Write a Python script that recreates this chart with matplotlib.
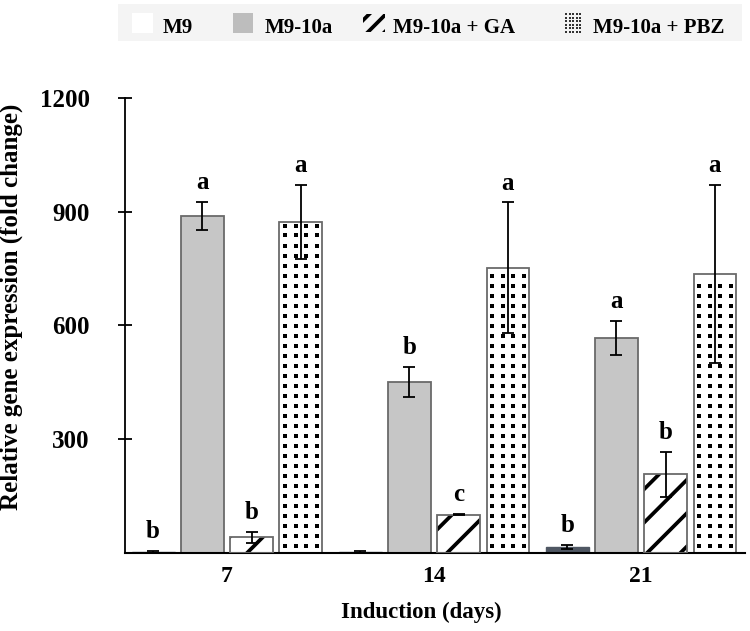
import numpy as np
import matplotlib
matplotlib.use('Agg')
import matplotlib.pyplot as plt
from matplotlib.patches import Rectangle

# ---------------- data ----------------
days = ['7', '14', '21']
series_names = ['M9', 'M9-10a', 'M9-10a + GA', 'M9-10a + PBZ']

m9 = [1, 1, 15]
m9_err = [3, 2, 5]
m9_10a = [889, 451, 567]
m9_10a_err = [37, 40, 45]
m9_10a_ga = [40, 100, 206]
m9_10a_ga_err = [15, 2, 60]
m9_10a_pbz = [873, 752, 736]
m9_10a_pbz_err = [98, 173, 235]

letters_m9 = ['b', '', 'b']
letters_m9_10a = ['a', 'b', 'a']
letters_ga = ['b', 'c', 'b']
letters_pbz = ['a', 'a', 'a']

y_ticks = [300, 600, 900, 1200]

# ---------------- style ----------------
plt.rcParams['font.family'] = ['Liberation Serif', 'DejaVu Serif']
plt.rcParams['font.weight'] = 'bold'
plt.rcParams['hatch.linewidth'] = 2.7

W, H = 750, 631
fig = plt.figure(figsize=(W / 100, H / 100), dpi=100)
ax = fig.add_axes([124.5 / W, 1 - 552.5 / H, (745 - 124.5) / W, (552.5 - 98) / H])

x = np.arange(len(days))
slot = 0.238
width = 0.207
offsets = (np.arange(4) - 1.5) * slot
edge_gray = '#6a6a6a'

values = [m9, m9_10a, m9_10a_ga, m9_10a_pbz]
errors = [m9_err, m9_10a_err, m9_10a_ga_err, m9_10a_pbz_err]
letters = [letters_m9, letters_m9_10a, letters_ga, letters_pbz]

ax.set_xlim(-0.495, 2.502)
ax.set_ylim(0, 1200)

# M9
ax.bar(x + offsets[0], m9, width, color='#4f5763', edgecolor='#4f5763', linewidth=1.0, zorder=2)
# M9-10a
ax.bar(x + offsets[1], m9_10a, width, color='#c6c6c6', edgecolor=edge_gray, linewidth=1.3, zorder=2)
# M9-10a + GA (hatch in black, outline in gray)
ax.bar(x + offsets[2], m9_10a_ga, width, color='white', edgecolor='black', linewidth=0,
       hatch='/', zorder=2)
ax.bar(x + offsets[2], m9_10a_ga, width, color='none', edgecolor=edge_gray, linewidth=1.3, zorder=3)
# M9-10a + PBZ
pbz_bars = ax.bar(x + offsets[3], m9_10a_pbz, width, color='white', edgecolor=edge_gray,
                  linewidth=1.3, zorder=2)

# dotted texture for PBZ bars (grid in pixel space, clipped to each bar)
for rect in pbz_bars:
    x0, y0 = rect.get_x(), rect.get_y()
    x1, y1 = x0 + rect.get_width(), y0 + rect.get_height()
    (X0, Y0), (X1, Y1) = ax.transData.transform([(x0, y0), (x1, y1)])
    cols = (X0 + X1) / 2 + (np.arange(4) - 1.5) * 10.5
    rows = np.arange(Y0 + 7, Y1 - 2, 10.0)
    gx, gy = np.meshgrid(cols, rows)
    pts = ax.transData.inverted().transform(np.column_stack([gx.ravel(), gy.ravel()]))
    sc = ax.scatter(pts[:, 0], pts[:, 1], marker='s', s=6.5, color='black',
                    linewidths=0, zorder=3)
    sc.set_clip_path(rect)

# error bars and letters
for i in range(4):
    ax.errorbar(x + offsets[i], values[i], yerr=errors[i], fmt='none', ecolor='black',
                elinewidth=1.3, capsize=4, capthick=1.3, zorder=4)
    for j in range(len(days)):
        if letters[i][j]:
            ax.annotate(letters[i][j], (x[j] + offsets[i], values[i][j] + errors[i][j]),
                        xytext=(0, 9), textcoords='offset points', ha='center', va='baseline',
                        fontsize=18, fontweight='bold', annotation_clip=False)

# axes styling
for s in ['top', 'right']:
    ax.spines[s].set_visible(False)
ax.spines['left'].set_linewidth(1.3)
ax.spines['bottom'].set_linewidth(1.5)
ax.spines['left'].set_bounds(0, 1200)
ax.set_yticks(y_ticks)
ax.set_yticklabels([str(t) for t in y_ticks])
ax.tick_params(axis='y', direction='inout', length=10, width=1.3, pad=20, labelsize=18)
ax.set_xticks(x)
ax.set_xticklabels(days)
ax.tick_params(axis='x', length=0, pad=10, labelsize=17)
ax.set_xlabel('Induction (days)', fontsize=16.5, fontweight='bold')
ax.xaxis.set_label_coords(0.479, -0.108)
ax.set_ylabel('Relative gene expression (fold change)', fontsize=18, fontweight='bold')
ax.yaxis.set_label_coords(-0.164, 0.54)

# ---------------- legend (manual) ----------------
lx0, lx1, ly0, ly1 = 118, 742, 4, 41
lax = fig.add_axes([lx0 / W, 1 - ly1 / H, (lx1 - lx0) / W, (ly1 - ly0) / H])
lax.set_xlim(lx0, lx1)
lax.set_ylim(ly1, ly0)
lax.set_facecolor('#f4f4f4')
lax.set_xticks([])
lax.set_yticks([])
for s in lax.spines.values():
    s.set_visible(False)

lax.add_patch(Rectangle((132, 13), 21, 20, facecolor='white', edgecolor='none'))
lax.add_patch(Rectangle((233, 13), 20, 20, facecolor='#bdbdbd', edgecolor='none'))
lax.add_patch(Rectangle((363, 14), 22, 18, facecolor='none', edgecolor='black',
                        linewidth=0, hatch='//'))
gx, gy = np.meshgrid(np.arange(566, 584, 3.6), np.arange(14, 33, 3.6))
lax.scatter(gx.ravel(), gy.ravel(), marker='s', s=1.2, color='#333333', linewidths=0)

for tx, name in zip([163, 265, 393, 593], series_names):
    lax.text(tx, 33, name, fontsize=15, fontweight='bold', ha='left', va='baseline')

fig.savefig('out.png', dpi=100)
